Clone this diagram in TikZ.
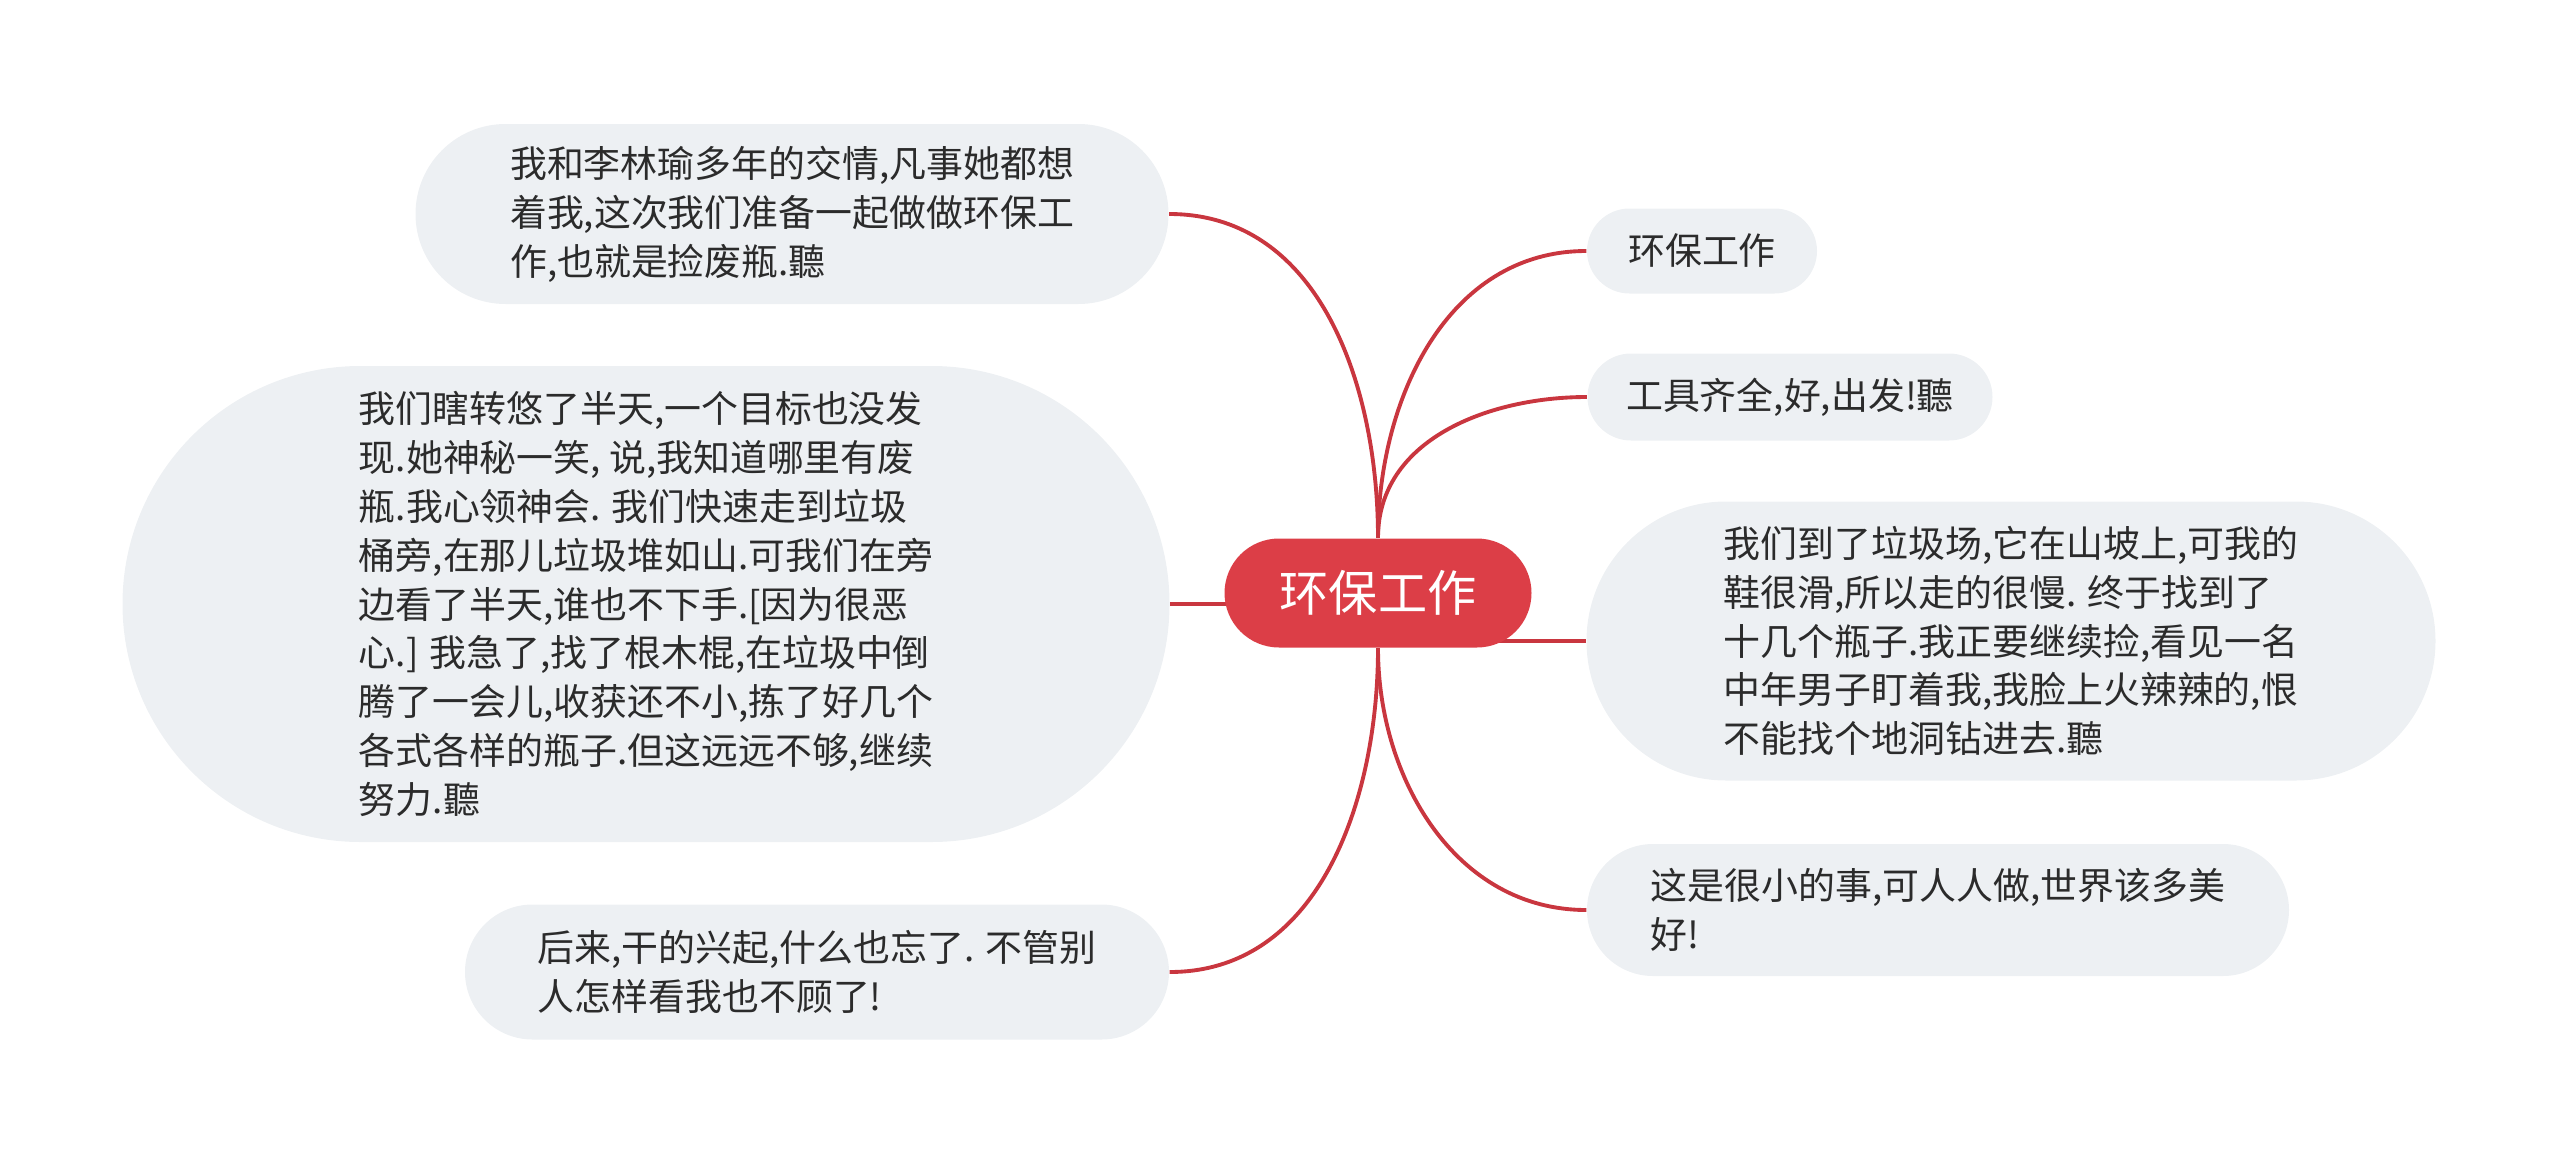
\documentclass[tikz,border=0pt]{standalone}
\usepackage{fontspec}
\setmainfont{Noto Sans CJK SC}
\usetikzlibrary{backgrounds}
\definecolor{mapred}{HTML}{DC3E47}
\definecolor{linered}{HTML}{C9363F}
\definecolor{leafgray}{HTML}{EDF0F3}
\definecolor{textgray}{HTML}{2B2B2B}

\begin{document}
\begin{tikzpicture}[
    leaf/.style={fill=leafgray, text=textgray, align=left, inner sep=0pt,
        font=\fontsize{10.5}{13.9}\selectfont},
    branch/.style={draw=linered, line width=1.1pt}
]
    \useasboundingbox (0,0) rectangle (25.6,11.62);

    % Define the central topic
    \node[fill=mapred, text=white, font=\fontsize{14}{16}\selectfont, inner sep=0pt,
        minimum width=3.07cm, minimum height=1.09cm, rounded corners=0.545cm] (center) at (13.78,5.69) {环保工作};

    % Right side topics
    \node[leaf, minimum width=2.30cm, minimum height=0.85cm, rounded corners=0.425cm] (goal) at (17.02,9.11) {环保工作};
    \node[leaf, minimum width=4.05cm, minimum height=0.87cm, rounded corners=0.435cm] (tools) at (17.90,7.65) {工具齐全,好,出发!聽};
    \node[leaf, minimum width=8.49cm, minimum height=2.79cm, rounded corners=1.395cm] (dump) at (20.11,5.21) {我们到了垃圾场,它在山坡上,可我的\\鞋很滑,所以走的很慢. 终于找到了\\十几个瓶子.我正要继续捡,看见一名\\中年男子盯着我,我脸上火辣辣的,恨\\不能找个地洞钻进去.聽};
    \node[leaf, minimum width=7.02cm, minimum height=1.32cm, rounded corners=0.66cm] (world) at (19.38,2.52) {这是很小的事,可人人做,世界该多美\\好!};

    % Left side topics
    \node[leaf, minimum width=7.53cm, minimum height=1.80cm, rounded corners=0.90cm] (friend) at (7.92,9.48) {我和李林瑜多年的交情,凡事她都想\\着我,这次我们准备一起做做环保工\\作,也就是捡废瓶.聽};
    \node[leaf, minimum width=10.47cm, minimum height=4.76cm, rounded corners=2.38cm] (search) at (6.46,5.58) {我们瞎转悠了半天,一个目标也没发\\现.她神秘一笑, 说,我知道哪里有废\\瓶.我心领神会. 我们快速走到垃圾\\桶旁,在那儿垃圾堆如山.可我们在旁\\边看了半天,谁也不下手.[因为很恶\\心.] 我急了,找了根木棍,在垃圾中倒\\腾了一会儿,收获还不小,拣了好几个\\各式各样的瓶子.但这远远不够,继续\\努力.聽};
    \node[leaf, minimum width=7.04cm, minimum height=1.35cm, rounded corners=0.675cm] (later) at (8.17,1.90) {后来,干的兴起,什么也忘了. 不管别\\人怎样看我也不顾了!};

    % Draw the branches behind the topics
    \begin{scope}[on background layer]
        \draw[branch] (center.north) to[out=90,in=180] (goal.west);
        \draw[branch] (center.north) to[out=90,in=180] (tools.west);
        \draw[branch] (center.center |- dump.west) -- (dump.west);
        \draw[branch] (center.south) to[out=-90,in=180] (world.west);
        \draw[branch] (center.north) to[out=90,in=0] (friend.east);
        \draw[branch] (center.center |- search.east) -- (search.east);
        \draw[branch] (center.south) to[out=-90,in=0] (later.east);
    \end{scope}

\end{tikzpicture}
\end{document}
